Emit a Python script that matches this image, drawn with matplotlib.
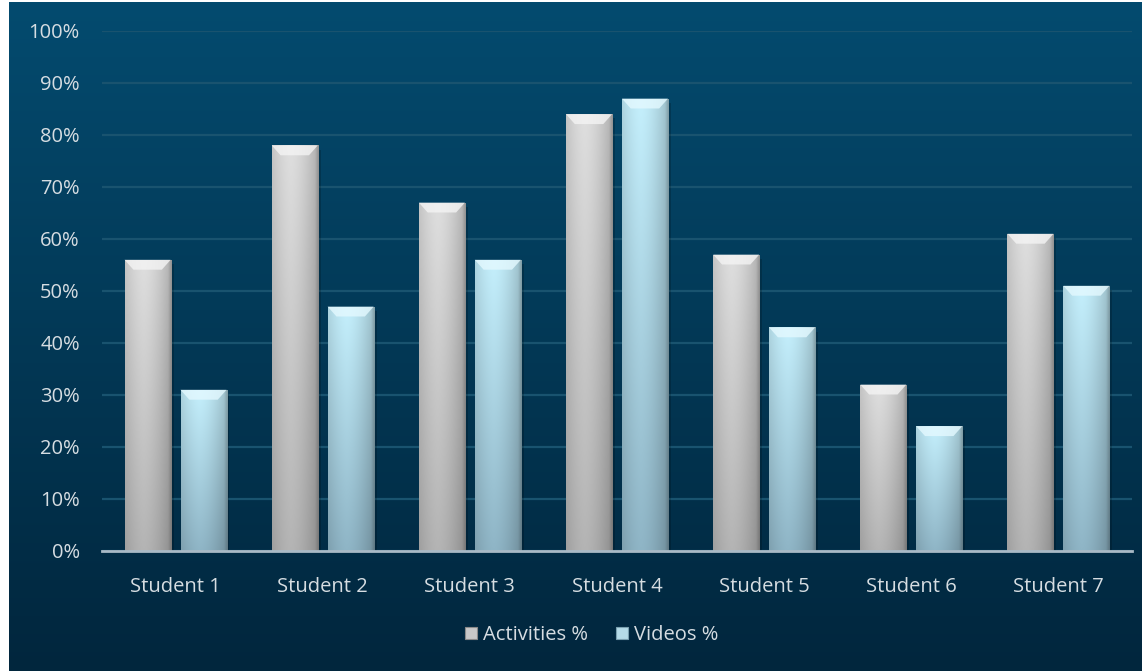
import numpy as np
import matplotlib
matplotlib.use('Agg')
import matplotlib.pyplot as plt
from matplotlib.colors import to_rgb
from matplotlib.patches import Rectangle, Polygon
from matplotlib.ticker import FuncFormatter

# data
students = ['Student 1', 'Student 2', 'Student 3', 'Student 4',
            'Student 5', 'Student 6', 'Student 7']
activities = [56, 78, 67, 84, 57, 32, 61]
videos = [31, 47, 56, 87, 43, 24, 51]
series_names = ['Activities %', 'Videos %']

plt.rcParams['font.family'] = ['Open Sans', 'DejaVu Sans']
txt_col = '#d6dde2'

fig = plt.figure(figsize=(11.42, 6.71), dpi=100, facecolor='white')

# background panel with vertical gradient
bg = fig.add_axes([9 / 1142, 0, 1 - 9 / 1142, 1 - 2 / 671], zorder=-1)
top_c = np.array(to_rgb('#044b6f'))
bot_c = np.array(to_rgb('#01263d'))
t = np.linspace(0, 1, 256)[:, None, None]
grad = top_c * (1 - t) + bot_c * t
bg.imshow(grad, aspect='auto', extent=[0, 1, 0, 1])
bg.set_axis_off()

ax = fig.add_axes([102 / 1142, 1 - 551 / 671, (1132 - 102) / 1142, (551 - 31) / 671])
ax.patch.set_alpha(0)

x = np.arange(len(students))
w = 0.313
off = 0.19


def shaded_bar(xc, h, top_col, bot_col, bevel_col):
    x0, x1 = xc - w / 2, xc + w / 2
    # faint shadow on the right
    ax.add_patch(Rectangle((x1, 0), 0.02, h - 0.8, color='black', alpha=0.18,
                           lw=0, zorder=2))
    rect = Rectangle((x0, 0), w, h, facecolor='none', edgecolor='none', zorder=3)
    ax.add_patch(rect)
    ny, nx = 64, 64
    vy = np.linspace(0, 1, ny)[:, None, None]   # 0 top, 1 bottom
    col = np.array(to_rgb(top_col)) * (1 - vy) + np.array(to_rgb(bot_col)) * vy
    u = np.linspace(0, 1, nx)
    shade = 1.0 - 0.22 * np.abs(u - 0.4) ** 1.6 / 0.6 ** 1.6
    shade[-6:] *= np.linspace(1.0, 0.85, 6)
    img = np.clip(col * shade[None, :, None], 0, 1)
    im = ax.imshow(img, extent=[x0, x1, 0, h], aspect='auto', zorder=3,
                   interpolation='bilinear')
    im.set_clip_path(rect)
    # bevelled top
    d, ins = 1.9, 0.06
    ax.add_patch(Polygon([(x0, h), (x1, h), (x1 - ins, h - d), (x0 + ins, h - d)],
                         closed=True, facecolor=bevel_col, edgecolor='none',
                         alpha=0.8, zorder=4))


for i in range(len(students)):
    shaded_bar(x[i] - off, activities[i], '#dedede', '#b4b4b4', '#f4f4f4')
    shaded_bar(x[i] + off, videos[i], '#c4effc', '#8fb5c6', '#e4f9ff')

ax.set_xlim(-0.5, len(students) - 0.5)
ax.set_ylim(0, 100)
ax.set_yticks(np.arange(0, 101, 10))
ax.yaxis.set_major_formatter(FuncFormatter(lambda v, p: '%d%%' % v))
ax.set_xticks(x)
ax.set_xticklabels(students)
ax.grid(axis='y', color='#19536f', lw=1.6, zorder=0)
ax.set_axisbelow(True)
for s in ['top', 'right', 'left']:
    ax.spines[s].set_visible(False)
ax.spines['bottom'].set_color('#a9bac6')
ax.spines['bottom'].set_linewidth(2)
ax.spines['bottom'].set_zorder(5)
ax.tick_params(length=0, colors=txt_col, labelsize=14.5)
ax.tick_params(axis='y', pad=16)
ax.tick_params(axis='x', pad=19)

# legend
handles = [Rectangle((0, 0), 1, 1, facecolor='#c8c8c8', edgecolor='#8a8a8a', lw=0.8),
           Rectangle((0, 0), 1, 1, facecolor='#b4dbe8', edgecolor='#7aa0b0', lw=0.8)]
fig.legend(handles, series_names, loc='center', bbox_to_anchor=(0.518, 1 - 635 / 671),
           ncol=2, frameon=False, fontsize=14.5, labelcolor=txt_col,
           handlelength=0.6, handleheight=0.6, handletextpad=0.3,
           columnspacing=1.4)

fig.savefig('out.png', dpi=100, facecolor='white')
